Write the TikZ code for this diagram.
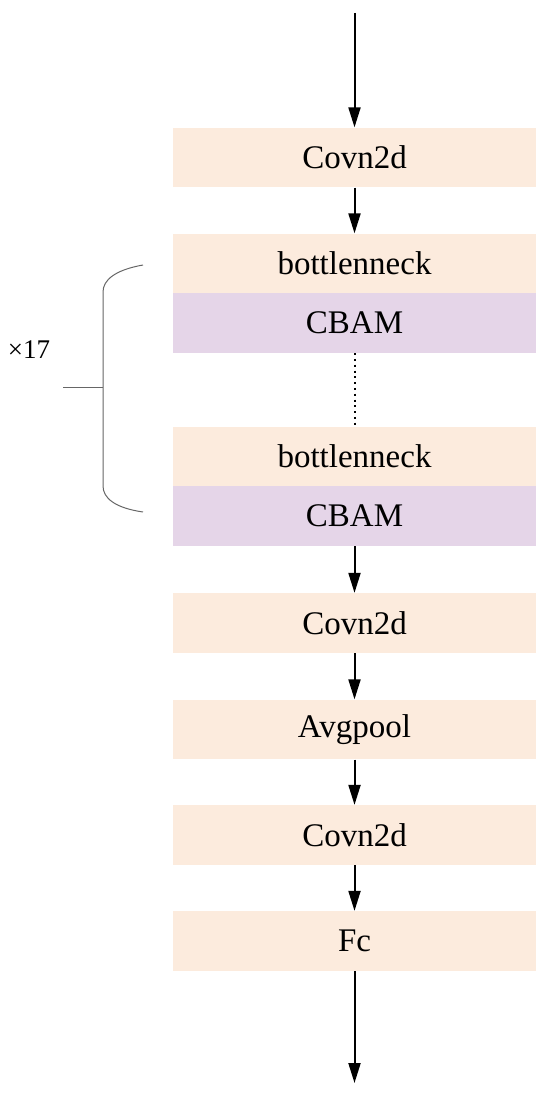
\documentclass[tikz,border=0pt]{standalone}
\usepackage{fontspec}
\setmainfont{Liberation Serif}
\usepackage{tikz}
\usetikzlibrary{arrows.meta}

\definecolor{peach}{RGB}{252,235,221}
\definecolor{lavender}{RGB}{229,213,232}

\begin{document}
\begin{tikzpicture}[x=0.5pt, y=-0.5pt,
		>={Triangle[length=10pt,width=6pt]},
		block_style/.style={rectangle,fill=peach,inner sep=0pt,minimum width=181.5pt,minimum height=29.75pt,font=\fontsize{16.5}{18}\selectfont},
		cbam_style/.style={block_style,fill=lavender},
		edge_style/.style={draw=black,line width=1pt,->},
		brace_style/.style={draw=black!60,line width=0.5pt}]
		
		\useasboundingbox (0,0) rectangle (550,1095);
		
		\coordinate (top_in) at (354.5,13);
		\node[block_style] (conv1) at (354.5,157.5)  {Covn2d};
		\node[block_style] (bn1) at (354.5,263.5)  {bottlenneck};
		\node[cbam_style] (cbam1) at (354.5,323)  {CBAM};
		\node[block_style] (bn2) at (354.5,456.5)  {bottlenneck};
		\node[cbam_style] (cbam2) at (354.5,516)  {CBAM};
		\node[block_style] (conv2) at (354.5,623)  {Covn2d};
		\node[block_style] (pool) at (354.5,729.5)  {Avgpool};
		\node[block_style] (conv3) at (354.5,835)  {Covn2d};
		\node[block_style] (fc) at (354.5,941)  {Fc};
		\coordinate (bottom_out) at (354.5,1083);
		
		\draw[edge_style]  (top_in) -- (conv1);
		\draw[edge_style]  (conv1) -- (bn1);
		\draw[line width=1pt,dash pattern=on 1pt off 1.9pt]  (cbam1) -- (bn2);
		\draw[edge_style]  (cbam2) -- (conv2);
		\draw[edge_style]  (conv2) -- (pool);
		\draw[edge_style]  (pool) -- (conv3);
		\draw[edge_style]  (conv3) -- (fc);
		\draw[edge_style]  (fc) -- (bottom_out);
		
		% repeat brace
		\draw[brace_style] (143,265) .. controls (115,270) and (103,280) .. (103,292) -- (103,486) .. controls (103,498) and (115,508) .. (143,512);
		\draw[brace_style] (63,388) -- (103,388);
		\node[font=\fontsize{13.5}{15}\selectfont] (rep) at (29,350) {×17};
		
		\end{tikzpicture}
\end{document}
